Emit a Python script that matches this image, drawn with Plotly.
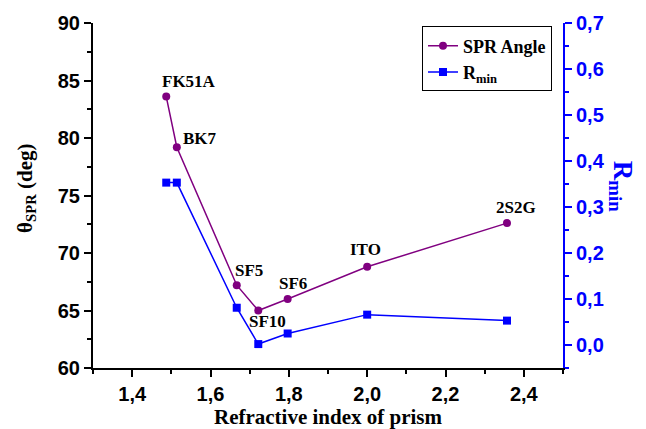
import plotly.graph_objects as go

# ---- data ----
prisms = ["FK51A", "BK7", "SF5", "SF10", "SF6", "ITO", "2S2G"]
n_index = [1.487, 1.514, 1.667, 1.722, 1.797, 2.000, 2.357]
spr_angle = [83.6, 79.2, 67.2, 65.0, 66.0, 68.8, 72.6]
r_min = [0.353, 0.353, 0.081, 0.002, 0.025, 0.066, 0.053]

# label offsets (pixels) relative to the SPR-angle points
lab_dx = [23, 23, 12, 9, 5, -2, 9]
lab_dy = [15, 9, 15, -11, 16, 17, 16]

PURPLE = "#800080"
BLUE = "#0000FF"
SERIF = "Liberation Serif"
SANS = "Liberation Sans"

fig = go.Figure()
fig.add_trace(go.Scatter(
    x=n_index, y=spr_angle, mode="lines+markers", name="<b>SPR Angle</b>",
    line=dict(color=PURPLE, width=1.5),
    marker=dict(symbol="circle", size=8, color=PURPLE),
    xaxis="x", yaxis="y"))
fig.add_trace(go.Scatter(
    x=n_index, y=r_min, mode="lines+markers", name="<b>R<sub>min</sub></b>",
    line=dict(color=BLUE, width=1.5),
    marker=dict(symbol="square", size=8, color=BLUE),
    xaxis="x", yaxis="y2"))

annotations = []
for name, xv, yv, dx, dy in zip(prisms, n_index, spr_angle, lab_dx, lab_dy):
    annotations.append(dict(
        x=xv, y=yv, xref="x", yref="y", text=f"<b>{name}</b>", showarrow=False,
        xshift=dx, yshift=dy, xanchor="center", yanchor="middle",
        font=dict(family=SERIF, size=17, color="black")))

annotations += [
    dict(x=0.5, y=-0.142, xref="paper", yref="paper", showarrow=False,
         text="<b>Refractive index of prism</b>", xanchor="center", yanchor="middle",
         font=dict(family=SERIF, size=21, color="black")),
    dict(x=-0.144, y=0.52, xref="paper", yref="paper", showarrow=False,
         text="<b>θ<sub>SPR</sub> (deg)</b>", textangle=-90, xanchor="center", yanchor="middle",
         font=dict(family=SERIF, size=21, color="black")),
    dict(x=1.125, y=0.526, xref="paper", yref="paper", showarrow=False,
         text="<b>R<sub>min</sub></b>", textangle=90, xanchor="center", yanchor="middle",
         font=dict(family=SERIF, size=27, color=BLUE)),
]

tickfont_black = dict(family=SANS, size=20, color="black", weight="bold")
tickfont_blue = dict(family=SANS, size=20, color=BLUE, weight="bold")

fig.update_layout(
    width=646, height=429,
    margin=dict(l=93, r=83, t=20, b=61),
    paper_bgcolor="white", plot_bgcolor="white",
    separators=",.",
    showlegend=True,
    legend=dict(x=0.7, y=0.99, xanchor="left", yanchor="top",
                bgcolor="white", bordercolor="black", borderwidth=1,
                font=dict(family=SERIF, size=18, color="black"),
                tracegroupgap=0, itemwidth=30),
    xaxis=dict(range=[1.3, 2.5], dtick=0.2, tick0=1.4, tickformat=".1f",
               showgrid=False, zeroline=False, showline=True, linecolor="black", linewidth=2,
               ticks="outside", ticklen=7, tickwidth=1.5, tickcolor="black",
               minor=dict(dtick=0.1, ticks="outside", ticklen=4, tickwidth=1.5, tickcolor="black"),
               tickfont=tickfont_black, anchor="y"),
    xaxis2=dict(range=[1.3, 2.5], dtick=0.2, tick0=1.4, overlaying="x", side="top", anchor="y",
                showgrid=False, zeroline=False, showline=True, linecolor="black", linewidth=2,
                ticks="inside", ticklen=7, tickwidth=1.5, tickcolor="black",
                minor=dict(dtick=0.1, ticks="inside", ticklen=4, tickwidth=1.5, tickcolor="black"),
                showticklabels=False),
    yaxis=dict(range=[60, 90], dtick=5, showgrid=False, zeroline=False,
               showline=True, linecolor="black", linewidth=2,
               ticks="outside", ticklen=7, tickwidth=1.5, tickcolor="black",
               minor=dict(dtick=2.5, ticks="outside", ticklen=4, tickwidth=1.5, tickcolor="black"),
               tickfont=tickfont_black, anchor="x"),
    yaxis2=dict(range=[-0.05, 0.7], dtick=0.1, tick0=0, tickformat=".1f",
                overlaying="y", side="right", anchor="x",
                showgrid=False, zeroline=False, showline=True, linecolor=BLUE, linewidth=2,
                ticks="outside", ticklen=7, tickwidth=1.5, tickcolor=BLUE,
                minor=dict(dtick=0.05, tick0=0, ticks="outside", ticklen=4, tickwidth=1.5, tickcolor=BLUE),
                tickfont=tickfont_blue),
    annotations=annotations,
)

fig.write_html("out.html")
